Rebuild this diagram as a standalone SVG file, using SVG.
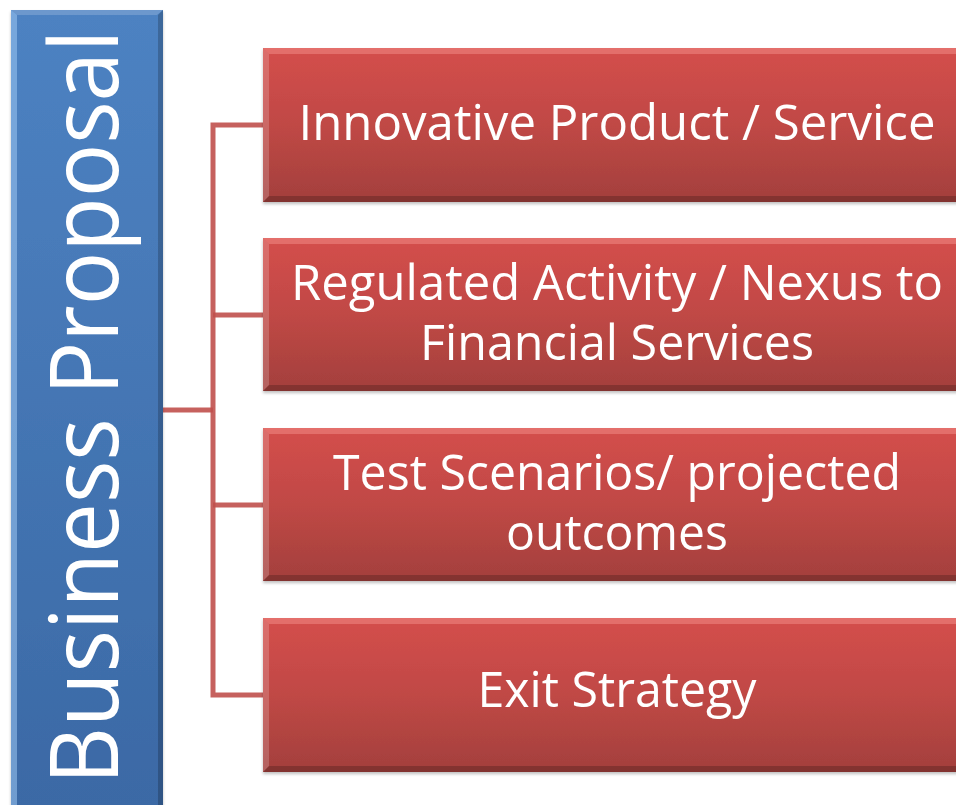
<svg xmlns="http://www.w3.org/2000/svg" width="956" height="805" viewBox="0 0 956 805">
<defs>
<linearGradient id="redG" x1="0" y1="0" x2="0" y2="1">
<stop offset="0" stop-color="#d44f4c"/>
<stop offset="0.5" stop-color="#c04845"/>
<stop offset="1" stop-color="#a3403d"/>
</linearGradient>
<linearGradient id="blueG" x1="0" y1="0" x2="0" y2="1">
<stop offset="0" stop-color="#4d82c2"/>
<stop offset="1" stop-color="#3b69a5"/>
</linearGradient>
<filter id="sh" x="-5%" y="-5%" width="110%" height="115%">
<feDropShadow dx="0" dy="2" stdDeviation="1.5" flood-color="#000" flood-opacity="0.25"/>
</filter>
</defs>
<style>
.lbl{font-family:"Open Sans","Noto Sans","Liberation Sans",sans-serif;fill:#ffffff;font-size:49px;text-anchor:middle}
.big{font-family:"Open Sans","Noto Sans","Liberation Sans",sans-serif;fill:#ffffff;font-size:95px;text-anchor:middle}
.conn{fill:none;stroke:#c0504d;stroke-width:5;stroke-opacity:0.9}
.hi{fill:#ffffff;fill-opacity:0.18}
.lo{fill:#000000;fill-opacity:0.2}
</style>
<rect width="956" height="805" fill="#ffffff"/>

<g id="connectors">
<path class="conn" d="M163 410 H213"/>
<path class="conn" d="M263 125 H213 V695 H263"/>
<path class="conn" d="M213 315 H263"/>
<path class="conn" d="M213 505 H263"/>
</g>

<g id="business-proposal">
<rect x="11" y="10" width="152" height="800" fill="url(#blueG)" filter="url(#sh)"/>
<polygon class="hi" points="11,10 163,10 157,15 17,15"/>
<polygon points="11,10 17,15 17,805 11,805" fill="#9cc6f2" fill-opacity="0.55"/>
<polygon class="lo" points="163,10 163,805 158,805 158,15"/>
<text class="big" transform="translate(118,407) rotate(-90)" textLength="755" lengthAdjust="spacingAndGlyphs">Business Proposal</text>
</g>

<g id="box1">
<rect x="263" y="48" width="710" height="154" fill="url(#redG)" filter="url(#sh)"/>
<polygon points="263,48 973,48 967,54 269,54" fill="#f08a86" fill-opacity="0.55"/>
<polygon class="hi" points="263,48 269,54 269,196 263,202"/>
<polygon class="lo" points="263,202 973,202 967,196 269,196"/>
<text class="lbl" x="617" y="140" textLength="637" lengthAdjust="spacingAndGlyphs">Innovative Product / Service</text>
</g>

<g id="box2">
<rect x="263" y="238" width="710" height="153" fill="url(#redG)" filter="url(#sh)"/>
<polygon points="263,238 973,238 967,244 269,244" fill="#f08a86" fill-opacity="0.55"/>
<polygon class="hi" points="263,238 269,244 269,385 263,391"/>
<polygon class="lo" points="263,391 973,391 967,385 269,385"/>
<text class="lbl" x="617" y="300" textLength="652" lengthAdjust="spacingAndGlyphs">Regulated Activity / Nexus to</text>
<text class="lbl" x="617" y="360" textLength="394" lengthAdjust="spacingAndGlyphs">Financial Services</text>
</g>

<g id="box3">
<rect x="263" y="428" width="710" height="153" fill="url(#redG)" filter="url(#sh)"/>
<polygon points="263,428 973,428 967,434 269,434" fill="#f08a86" fill-opacity="0.55"/>
<polygon class="hi" points="263,428 269,434 269,575 263,581"/>
<polygon class="lo" points="263,581 973,581 967,575 269,575"/>
<text class="lbl" x="617" y="490" textLength="568" lengthAdjust="spacingAndGlyphs">Test Scenarios/ projected</text>
<text class="lbl" x="617" y="550" textLength="222" lengthAdjust="spacingAndGlyphs">outcomes</text>
</g>

<g id="box4">
<rect x="263" y="618" width="710" height="154" fill="url(#redG)" filter="url(#sh)"/>
<polygon points="263,618 973,618 967,624 269,624" fill="#f08a86" fill-opacity="0.55"/>
<polygon class="hi" points="263,618 269,624 269,766 263,772"/>
<polygon class="lo" points="263,772 973,772 967,766 269,766"/>
<text class="lbl" x="617" y="707" textLength="279" lengthAdjust="spacingAndGlyphs">Exit Strategy</text>
</g>
</svg>
